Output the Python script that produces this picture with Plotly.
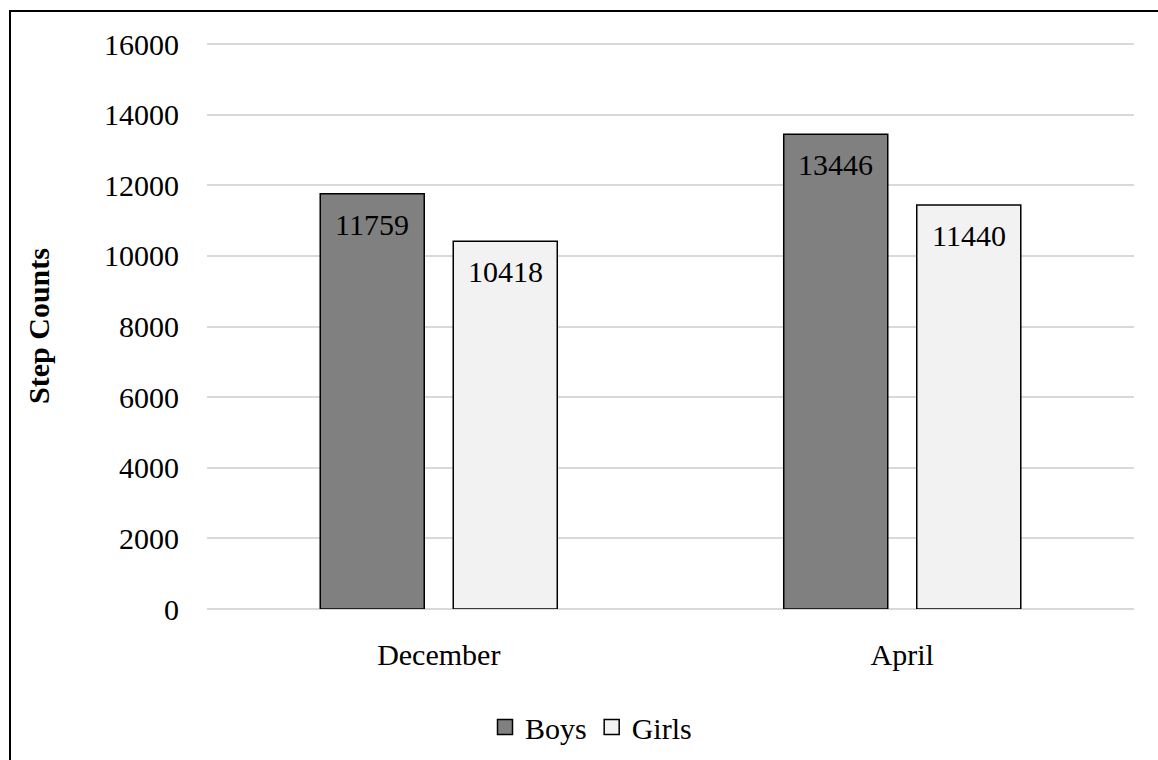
import plotly.graph_objects as go

months = ["December", "April"]
boys = [11759, 13446]
girls = [10418, 11440]

FONT = "Liberation Serif, Times New Roman, serif"
FS = 30

L, R, T, B = 207, 24, 43, 151
W, H = 1158, 760
pw, ph = W - L - R, H - T - B

BARGAP, GROUPGAP = 0.426, 0.218
# horizontal offset (px) of each bar centre from its category centre
slot_px = pw / len(months) * (1 - BARGAP) / 2
offsets = {"Boys": -slot_px / 2, "Girls": slot_px / 2}

series = [("Boys", boys, "#808080"), ("Girls", girls, "#f2f2f2")]

fig = go.Figure()
for name, vals, color in series:
    fig.add_trace(go.Bar(
        name=name, x=months, y=vals, showlegend=False,
        marker=dict(color=color, line=dict(color="#000000", width=1.5)),
        hoverinfo="x+y",
    ))
    # legend entry with a larger square swatch
    fig.add_trace(go.Scatter(
        name=name, x=[None], y=[None], mode="markers",
        marker=dict(symbol="square", size=15, color=color,
                    line=dict(color="#000000", width=1.5)),
    ))
    # value labels just inside the top of each bar
    for m, v in zip(months, vals):
        fig.add_annotation(
            x=m, y=v, xref="x", yref="y", text=str(v), showarrow=False,
            xanchor="center", yanchor="top", xshift=offsets[name], yshift=-12,
            font=dict(family=FONT, size=FS, color="#000000"),
        )

# outer chart border
fig.add_shape(
    type="rect", xref="paper", yref="paper", layer="above",
    x0=(10 - L) / pw, x1=(W + 20 - L) / pw,
    y0=(T + ph - (H + 20)) / ph, y1=(T + ph - 11) / ph,
    line=dict(color="#000000", width=2), fillcolor="rgba(0,0,0,0)",
)

fig.update_layout(
    width=W, height=H,
    margin=dict(l=L, r=R, t=T, b=B, autoexpand=False),
    paper_bgcolor="#ffffff", plot_bgcolor="#ffffff",
    barmode="group", bargap=BARGAP, bargroupgap=GROUPGAP,
    font=dict(family=FONT, size=FS, color="#000000"),
    showlegend=True,
    legend=dict(
        orientation="h", xref="container", yref="container",
        x=591 / W, xanchor="center", y=1 - 727 / H, yanchor="middle",
        font=dict(family=FONT, size=FS, color="#000000"),
        itemwidth=30, traceorder="normal", bgcolor="rgba(0,0,0,0)",
    ),
)
fig.update_xaxes(
    showgrid=False, showline=False, ticks="", automargin=False,
    tickfont=dict(family=FONT, size=FS), ticklabelstandoff=25,
)
fig.update_yaxes(
    range=[0, 16030], tickvals=list(range(0, 16001, 2000)), tickformat="d",
    showgrid=True, gridcolor="#d9d9d9", gridwidth=1.5,
    zeroline=True, zerolinecolor="#d9d9d9", zerolinewidth=1.5,
    showline=False, ticks="", automargin=False,
    tickfont=dict(family=FONT, size=FS), ticklabelstandoff=27,
    title=dict(text="<b>Step Counts</b>", font=dict(family=FONT, size=FS), standoff=45),
)

fig.write_html("out.html")
